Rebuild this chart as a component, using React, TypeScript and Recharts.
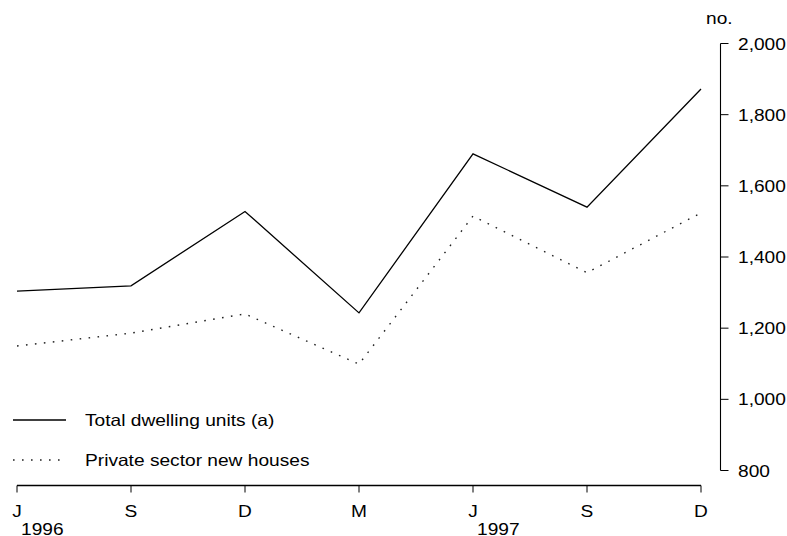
import { LineChart, Line, XAxis, YAxis, Legend } from 'recharts';

const periods = ['Jun 1996', 'Sep 1996', 'Dec 1996', 'Mar 1997', 'Jun 1997', 'Sep 1997', 'Dec 1997'];
const monthLabels = ['J', 'S', 'D', 'M', 'J', 'S', 'D'];
const yearLabels = ['1996', '', '', '', '1997', '', ''];
const totalDwellings = [1304, 1319, 1528, 1243, 1690, 1540, 1872];
const privateHouses = [1150, 1186, 1240, 1099, 1515, 1356, 1524];
const yTicks = [800, 1000, 1200, 1400, 1600, 1800, 2000];

const FONT = '"Liberation Sans", Arial, sans-serif';
const FS = 16.5;
// the reference text is a bit wider than plain Arial at its height
const STRETCH = 1.16;

const data = periods.map((p, i) => ({
  period: p,
  month: monthLabels[i],
  year: yearLabels[i],
  total: totalDwellings[i],
  private: privateHouses[i]
}));

const series = [
  { key: 'total', name: 'Total dwelling units (a)', dash: undefined, color: '#000', width: 1.3 },
  { key: 'private', name: 'Private sector new houses', dash: '1.6 7.4', color: '#222', width: 1.4 }
];

const Txt = ({ x, y, anchor, children }: any) => (
  <text
    transform={`translate(${x},${y}) scale(${STRETCH},1)`}
    textAnchor={anchor}
    fill='#000'
    fontSize={FS}
    fontFamily={FONT}
  >
    {children}
  </text>
);

const MonthTick = (props: any) => {
  const { x, y, payload } = props;
  const i = payload.index;
  return (
    <g>
      <Txt x={x} y={y + 37} anchor='middle'>{monthLabels[i]}</Txt>
      {yearLabels[i] && (
        <Txt x={x + 4} y={y + 55.5} anchor='start'>{yearLabels[i]}</Txt>
      )}
    </g>
  );
};

const ValueTick = (props: any) => {
  const { x, y, payload } = props;
  return (
    <Txt x={x + 27} y={y + 6} anchor='start'>
      {payload.value.toLocaleString('en-US')}
    </Txt>
  );
};

const UnitLabel = (props: any) => {
  const { viewBox } = props;
  if (!viewBox) return null;
  return <Txt x={viewBox.x + 5} y={viewBox.y - 19.5} anchor='start'>no.</Txt>;
};

const LegendBox = () => (
  <div style={{ fontFamily: FONT, fontSize: FS, color: '#000' }}>
    {series.map((s) => (
      <div key={s.key} style={{ display: 'flex', alignItems: 'center', height: 40 }}>
        <svg width={72} height={10} style={{ display: 'block' }}>
          <line x1={0} x2={53} y1={5} y2={5} stroke={s.color} strokeWidth={s.width} strokeDasharray={s.dash} />
        </svg>
        <span style={{ display: 'inline-block', transform: `scaleX(${STRETCH})`, transformOrigin: 'left center', whiteSpace: 'nowrap' }}>
          {s.name}
        </span>
      </div>
    ))}
  </div>
);

export default function App() {
  return (
    <div style={{ position: 'absolute', left: 0, top: 0, width: 787, height: 536, background: '#fff' }}>
      <LineChart
        width={787}
        height={536}
        data={data}
        margin={{ top: 43.5, right: 6, bottom: 5.5, left: 17 }}
      >
        <XAxis
          dataKey='period'
          height={60}
          interval={0}
          tickSize={7}
          tickMargin={2}
          axisLine={{ stroke: '#000', strokeWidth: 1.3, transform: 'translate(0,15)' }}
          tickLine={{ stroke: '#000', strokeWidth: 1, transform: 'translate(0,15)' }}
          tick={<MonthTick />}
        />
        <YAxis
          orientation='right'
          width={80}
          domain={[800, 2000]}
          ticks={yTicks}
          interval={0}
          tickSize={8}
          tickMargin={2}
          axisLine={{ stroke: '#000', strokeWidth: 1.1, transform: 'translate(19.5,0)' }}
          tickLine={{ stroke: '#000', strokeWidth: 1, transform: 'translate(19.5,0)' }}
          tick={<ValueTick />}
          label={{ content: <UnitLabel /> }}
        />
        <Legend
          layout='vertical'
          align='center'
          verticalAlign='middle'
          wrapperStyle={{ left: 13, top: 400, width: 340 }}
          content={<LegendBox />}
        />
        {series.map((s) => (
          <Line
            key={s.key}
            type='linear'
            dataKey={s.key}
            name={s.name}
            stroke={s.color}
            strokeWidth={s.width}
            strokeDasharray={s.dash}
            dot={false}
            activeDot={false}
            isAnimationActive={false}
          />
        ))}
      </LineChart>
    </div>
  );
}
